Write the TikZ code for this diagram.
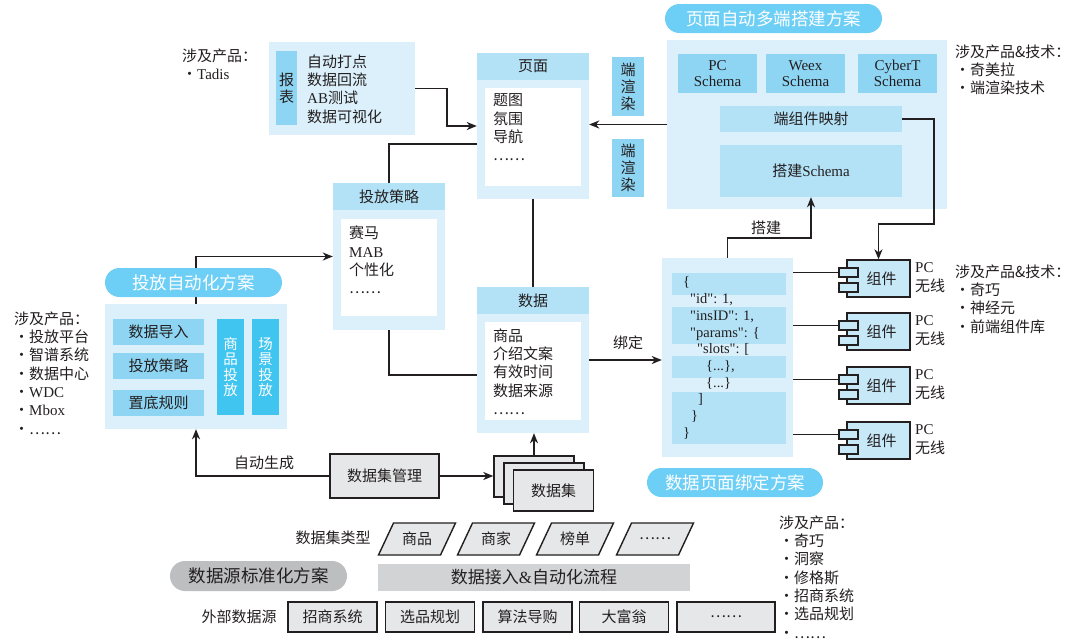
\documentclass[tikz,border=0pt]{standalone}
\usepackage{fontspec}
\setmainfont{Noto Sans CJK SC}
\newfontfamily\lat{Liberation Serif}
\usetikzlibrary{arrows.meta,calc}
\definecolor{ink}{HTML}{231F20}
\definecolor{boxbg}{HTML}{DBF0FB}
\definecolor{headc}{HTML}{B3E2F7}
\definecolor{stripc}{HTML}{8DD5F3}
\definecolor{cyanc}{HTML}{40C4F0}
\definecolor{pillc}{HTML}{6DCFF6}
\definecolor{compc}{HTML}{C7E8F7}
\definecolor{grayf}{HTML}{E6E7E8}
\definecolor{barc}{HTML}{D1D3D4}
\definecolor{gpillc}{HTML}{BCBEC0}
\begin{document}
\begin{tikzpicture}[x=1pt,y=-1pt,
  every node/.style={font=\fontsize{15}{18.3}\selectfont, text=ink, inner sep=0pt},
  wh/.style 2 args={minimum width=#1pt, minimum height=#2pt},
  panel/.style={fill=boxbg},
  head/.style={fill=headc},
  strip/.style={fill=stripc},
  cyanstrip/.style={fill=cyanc, text=white, align=center, font=\fontsize{14.5}{15.5}\selectfont},
  vert/.style={align=center, font=\fontsize{15}{17}\selectfont},
  pill/.style={fill=pillc, rounded corners=14.5pt, text=white, font=\fontsize{17.5}{20}\selectfont},
  gpill/.style={fill=gpillc, rounded corners=15pt, font=\fontsize{17.5}{20}\selectfont},
  gbox/.style={fill=grayf, draw=ink, line width=1.4pt},
  gpar/.style={fill=grayf, draw=ink, line width=1.4pt},
  comp/.style={fill=compc, draw=ink, line width=1.3pt},
  conn/.style={draw=ink, line width=1.5pt},
  arr/.style={draw=ink, line width=1.5pt, -{Stealth[length=10pt, width=8pt, inset=3pt]}},
  list/.style={align=left, anchor=west},
  latn/.style={font=\lat\fontsize{15}{16.5}\selectfont, align=center}
]
\useasboundingbox[fill=white] (0,0) rectangle (1080,641);

% ---------- report box ----------
\node[panel, wh={146}{93}] (rpt) at (342,88.5) {};
\node[strip, wh={21}{74}, vert] (rptS) at (286.5,88) {报\\表};
\node[list] (rptT) at (307,89) {自动打点\\数据回流\\{\lat AB}测试\\数据可视化};
\node[list] (tlT) at (182,64) {涉及产品：\\・{\lat Tadis}};

% ---------- page box ----------
\node[panel, wh={112}{146}] (page) at (533,126) {};
\node[head, wh={112}{27}] (pageH) at (533,66.5) {页面};
\node[fill=white, wh={96}{98}] (pageW) at (533,137) {};
\node[list] (pageT) at (493,127.5) {题图\\氛围\\导航\\……};

% ---------- render tags ----------
\node[strip, wh={32}{59}, vert] (r1) at (628,86.5) {端\\渲\\染};
\node[strip, wh={32}{58}, vert] (r2) at (628,168) {端\\渲\\染};

% ---------- multi-end build ----------
\node[panel, wh={280}{169}] (multi) at (807,124.5) {};
\node[pill, wh={217}{29}] (multiP) at (773.5,18.5) {页面自动多端搭建方案};
\node[strip, wh={79}{39}, latn] (pc) at (717.5,73.5) {PC\\Schema};
\node[strip, wh={79}{39}, latn] (weex) at (805.5,73.5) {Weex\\Schema};
\node[strip, wh={79}{39}, latn] (cyber) at (897.5,73.5) {CyberT\\Schema};
\node[head, wh={182}{26}] (map) at (811,119) {端组件映射};
\node[head, wh={182}{52}] (build) at (811,171) {搭建{\lat Schema}};
\node[list] (rtT) at (955,70) {涉及产品\&技术：\\・奇美拉\\・端渲染技术};

\draw[arr] (multi.west) -- (multi.west -| page.east);
\draw[arr] (rpt.east) -- ++(32,0) |- (page.west);

% ---------- strategy box ----------
\node[panel, wh={112}{147}] (strat) at (389,256.5) {};
\node[head, wh={112}{27}] (stratH) at (389,196.5) {投放策略};
\node[fill=white, wh={96}{97}] (stratW) at (389,267.5) {};
\node[list] (stratT) at (349,260) {赛马\\{\lat MAB}\\个性化\\……};
\draw[conn] (strat.north) |- ([yshift=-18pt]page.west);

% ---------- data box ----------
\node[panel, wh={112}{146}] (data) at (533,360) {};
\node[head, wh={112}{27}] (dataH) at (533,300.5) {数据};
\node[fill=white, wh={96}{98}] (dataW) at (533,371) {};
\node[list] (dataT) at (493,371.5) {商品\\介绍文案\\有效时间\\数据来源\\……};
\draw[conn] (page.south) -- (data.north);
\draw[conn] (strat.south) |- ([yshift=-15pt]data.west);

% ---------- json box ----------
\node[panel, wh={131}{199}] (json) at (727.5,357.5) {};
\node[head, wh={114}{22}] (jb1) at (729,284) {};
\node[head, wh={114}{37}] (jb2) at (729,325.5) {};
\node[head, wh={114}{22}] (jb3) at (729,367) {};
\node[head, wh={114}{52}] (jb4) at (729,418) {};
\node[list, font=\lat\fontsize{14.5}{16.7}\selectfont] (jsonT) at (683,358) {\{\\
\hspace*{7pt}"id": 1,\\
\hspace*{7pt}"insID": 1,\\
\hspace*{7pt}"params": \{\\
\hspace*{14pt}"slots": [\\
\hspace*{23pt}\{...\},\\
\hspace*{23pt}\{...\}\\
\hspace*{15pt}]\\
\hspace*{8pt}\}\\
\}};
\node[pill, wh={176}{29}] (jsonP) at (735,482.5) {数据页面绑定方案};

\draw[arr] (data.east) -- (data.east -| json.west);
\node (lblBind) at (628,343) {绑定};
\draw[arr] (json.north) -- ++(0,-20) -| (build.south);
\node (lblBuild) at (766,228) {搭建};

% ---------- components ----------
\foreach \i/\y in {1/278.5,2/331.5,3/385.5,4/440.5}{
  \node[comp, wh={63}{37}] (c\i) at (878.5,\y) {\hspace*{6pt}组件};
  \node[comp, wh={19}{9}] (ca\i) at (848.5,\y-6) {};
  \node[comp, wh={19}{9}] (cb\i) at (848.5,\y+9) {};
  \node[list, font=\fontsize{15}{19}\selectfont] (pl\i) at (915,\y-1) {{\lat PC}\\无线};
  \draw[conn] (json.east |- ca\i.west) -- (ca\i.west);
}
\draw[arr] (map.east) -- ++(32,0) -- ++(0,105) -| (c1.north);
\node[list] (rmT) at (955,299) {涉及产品\&技术：\\・奇巧\\・神经元\\・前端组件库};

% ---------- auto delivery ----------
\node[panel, wh={182}{125}] (auto) at (196,366.5) {};
\draw[arr] (auto.north) |- (strat.west);
\node[pill, wh={177}{29}] (autoP) at (193.5,282.5) {投放自动化方案};
\node[strip, wh={91}{26}] (i1) at (158.5,331.5) {数据导入};
\node[strip, wh={91}{26}] (i2) at (158.5,366) {投放策略};
\node[strip, wh={91}{26}] (i3) at (158.5,403) {置底规则};
\node[cyanstrip, wh={27}{96}] (s1) at (230.5,367) {商\\品\\投\\放};
\node[cyanstrip, wh={27}{96}] (s2) at (265.5,367) {场\\景\\投\\放};
\node[list] (leftT) at (14,373) {涉及产品：\\・投放平台\\・智谱系统\\・数据中心\\・{\lat WDC}\\・{\lat Mbox}\\・……};

% ---------- dataset management ----------
\node[gbox, wh={109}{44}] (mgmt) at (384.5,476) {数据集管理};
\draw[arr] (mgmt.west) -| (auto.south);
\node (lblAuto) at (264,463) {自动生成};
\node[gbox, wh={80}{41}] (ds1) at (534,476.5) {};
\node[gbox, wh={80}{41}] (ds2) at (544,483.5) {};
\node[gbox, wh={80}{41}] (ds3) at (553.5,490.5) {数据集};
\draw[arr] (mgmt.east) -- (mgmt.east -| ds1.west);
\draw[arr] (ds1.north) -- (ds1.north |- data.south);

% ---------- dataset types ----------
\node (dtl) at (333,538) {数据集类型};
\foreach \n/\cx/\t in {1/417/商品,2/496/商家,3/575/榜单,4/655/……}{
  \coordinate (pc\n) at (\cx,539);
  \draw[gpar] ([shift={(-38.5,16)}]pc\n) -- ([shift={(23.5,16)}]pc\n) -- ([shift={(38.5,-16)}]pc\n) -- ([shift={(-23.5,-16)}]pc\n) -- cycle;
  \node (pt\n) at (pc\n) {\t};
}

% ---------- standardization ----------
\node[gpill, wh={177}{30}] (stdP) at (258.5,576) {数据源标准化方案};
\node[fill=barc, wh={312}{27}, font=\fontsize{17}{20}\selectfont] (bar) at (534,577.5) {数据接入{\lat\&}自动化流程};

% ---------- external sources ----------
\node (ext) at (239,617) {外部数据源};
\foreach \n/\cx/\t in {1/332.5/招商系统,2/430/选品规划,3/527.5/算法导购,4/624/大富翁}{
  \node[gbox, wh={89}{30}] (e\n) at (\cx,617) {\t};
}
\node[gbox, wh={98}{30}] (e5) at (726,617) {……};
\node[list] (rbT) at (779,577) {涉及产品：\\・奇巧\\・洞察\\・修格斯\\・招商系统\\・选品规划\\・……};
\end{tikzpicture}
\end{document}
